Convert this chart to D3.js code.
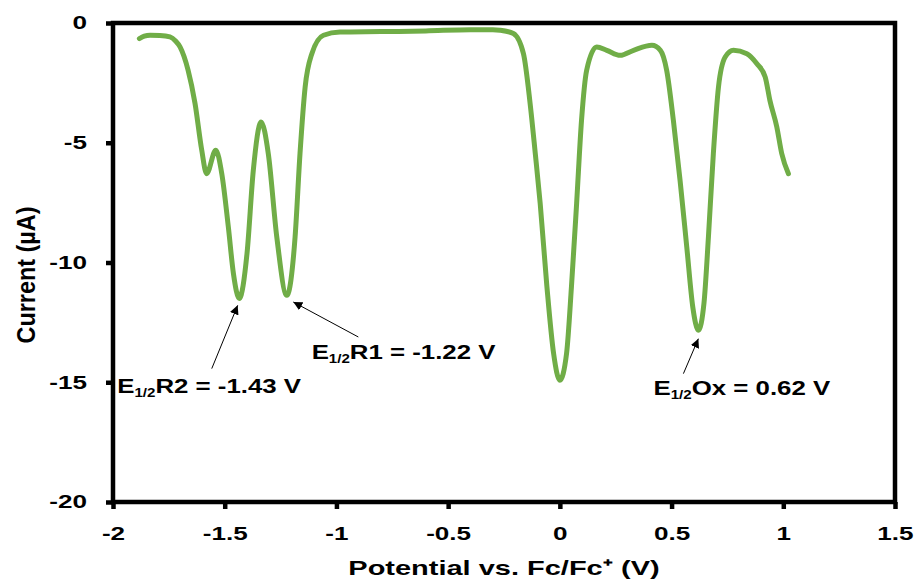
<!DOCTYPE html>
<html>
<head>
<meta charset="utf-8">
<script src="https://cdn.jsdelivr.net/npm/d3@7"></script>
<style>
  body { margin: 0; background: #fff; }
  text { font-family: "Liberation Sans", Arial, sans-serif; font-weight: bold; fill: #000; }
</style>
</head>
<body>
<div class="chart-container"></div>
<script>
const SVG_WIDTH = 918;
const SVG_HEIGHT = 582;

// potential (V vs Fc/Fc+) and current (uA)
const potential = [
    -1.882, -1.86, -1.834, -1.79, -1.745, -1.72, -1.70, -1.664, -1.633, -1.603,
    -1.581, -1.54, -1.513, -1.484, -1.461, -1.435, -1.40, -1.372, -1.337, -1.305,
    -1.267, -1.222, -1.185, -1.163, -1.14, -1.11, -1.058, -0.984, -0.8, -0.6,
    -0.4, -0.3, -0.268, -0.208, -0.163, -0.133, -0.11, -0.088, -0.058, -0.028,
    0.0, 0.03, 0.052, 0.075, 0.097, 0.12, 0.165, 0.21, 0.27, 0.33,
    0.412, 0.45, 0.478, 0.508, 0.538, 0.568, 0.595, 0.62, 0.645, 0.665,
    0.687, 0.71, 0.74, 0.777, 0.837, 0.882, 0.919, 0.94, 0.971, 0.993,
    1.023
];
const current = [
    -0.65, -0.55, -0.51, -0.52, -0.58, -0.75, -1.0, -1.97, -3.35, -5.3,
    -6.29, -5.31, -6.3, -8.5, -10.46, -11.5, -9.6, -6.15, -4.13, -5.45,
    -8.93, -11.37, -8.93, -5.45, -2.67, -1.28, -0.51, -0.38, -0.36, -0.33,
    -0.28, -0.28, -0.3, -0.44, -1.28, -3.37, -5.45, -7.54, -11.0, -13.8,
    -14.92, -13.8, -11.0, -7.54, -4.06, -1.97, -1.0, -1.14, -1.35, -1.14,
    -0.93, -1.14, -1.97, -4.06, -6.57, -9.35, -11.86, -12.83, -11.7, -8.93,
    -5.45, -2.67, -1.42, -1.14, -1.28, -1.7, -2.25, -3.23, -4.34, -5.45,
    -6.29
];

const xTicks = [-2, -1.5, -1, -0.5, 0, 0.5, 1, 1.5];
const yTicks = [0, -5, -10, -15, -20];

// annotations: label parts, text anchor, arrow tail and head (data units)
const noteMain = ["R2 = -1.43 V", "R1 = -1.22 V", "Ox = 0.62 V"];
const noteText = [[-1.981, -15.46], [-1.111, -14.01], [0.419, -15.54]];
const noteTail = [[-1.558, -14.43], [-0.902, -13.11], [0.553, -14.64]];
const noteHead = [[-1.442, -11.79], [-1.193, -11.65], [0.620, -13.18]];

const margin = {left: 113, right: 23, top: 23, bottom: 80};

// the original figure is stretched sideways, so text is widened to match
const TICK_STRETCH = 1.45;
const NOTE_STRETCH = 1.26;
const TITLE_STRETCH = 1.38;

const svg = d3.select(".chart-container")
    .append("svg")
    .attr("width", SVG_WIDTH)
    .attr("height", SVG_HEIGHT);

const x = d3.scaleLinear()
    .domain([-2, 1.5])
    .range([margin.left, SVG_WIDTH - margin.right]);

const y = d3.scaleLinear()
    .domain([0, -20])
    .range([margin.top, SVG_HEIGHT - margin.bottom]);

const points = potential.map((p, i) => [p, current[i]]);

// trace
const line = d3.line()
    .x(d => x(d[0]))
    .y(d => y(d[1]))
    .curve(d3.curveMonotoneX);

svg.append("path")
    .datum(points)
    .attr("d", line)
    .attr("fill", "none")
    .attr("stroke", "#70AD47")
    .attr("stroke-width", 5)
    .attr("stroke-linecap", "round")
    .attr("stroke-linejoin", "round");

// frame
svg.append("rect")
    .attr("x", x(-2))
    .attr("y", y(0))
    .attr("width", x(1.5) - x(-2))
    .attr("height", y(-20) - y(0))
    .attr("fill", "none")
    .attr("stroke", "#000")
    .attr("stroke-width", 4.5);

// axes
const xAxis = svg.append("g")
    .attr("transform", `translate(0, ${y(-20)})`)
    .call(d3.axisBottom(x).tickValues(xTicks).tickSize(7).tickPadding(18)
        .tickFormat(d => String(d)));

const yAxis = svg.append("g")
    .attr("transform", `translate(${x(-2)}, 0)`)
    .call(d3.axisLeft(y).tickValues(yTicks).tickSize(7).tickPadding(19)
        .tickFormat(d => String(d)));

[xAxis, yAxis].forEach(g => {
    g.select(".domain").remove();
    g.selectAll(".tick line").attr("stroke", "#000").attr("stroke-width", 4.5);
    g.selectAll(".tick text")
        .style("font-size", "18px")
        .style("font-family", "Liberation Sans, Arial, sans-serif")
        .style("font-weight", "bold")
        .attr("fill", "#000")
        .each(function() {
            const t = d3.select(this);
            const tx = +t.attr("x") || 0;
            t.attr("x", tx / TICK_STRETCH)
             .attr("transform", `scale(${TICK_STRETCH},1)`);
        });
});

// axis titles
svg.append("text")
    .attr("transform", `translate(${(x(-2) + x(1.5)) / 2}, 575) scale(${TITLE_STRETCH},1)`)
    .attr("text-anchor", "middle")
    .style("font-size", "21px")
    .text("Potential vs. Fc/Fc⁺ (V)");

svg.append("text")
    .attr("transform", `translate(35, 275) rotate(-90) scale(1.17,1.3)`)
    .attr("text-anchor", "middle")
    .style("font-size", "20px")
    .text("Current (µA)");

// arrowheads
svg.append("defs").append("marker")
    .attr("id", "arrow")
    .attr("viewBox", "0 0 10 10")
    .attr("refX", 10)
    .attr("refY", 5)
    .attr("markerWidth", 9)
    .attr("markerHeight", 9)
    .attr("markerUnits", "userSpaceOnUse")
    .attr("orient", "auto")
    .append("path")
    .attr("d", "M0,0 L10,5 L0,10 Z")
    .attr("fill", "#000");

for (let i = 0; i < noteMain.length; i++) {
    svg.append("line")
        .attr("x1", x(noteTail[i][0]))
        .attr("y1", y(noteTail[i][1]))
        .attr("x2", x(noteHead[i][0]))
        .attr("y2", y(noteHead[i][1]))
        .attr("stroke", "#000")
        .attr("stroke-width", 1)
        .attr("marker-end", "url(#arrow)");

    const t = svg.append("text")
        .attr("transform", `translate(${x(noteText[i][0])}, ${y(noteText[i][1])}) scale(${NOTE_STRETCH},1)`)
        .style("font-size", "20.5px");
    t.append("tspan").text("E");
    t.append("tspan").attr("dy", 4).style("font-size", "12px").text("1/2");
    t.append("tspan").attr("dy", -4).text(noteMain[i]);
}
</script>
</body>
</html>
